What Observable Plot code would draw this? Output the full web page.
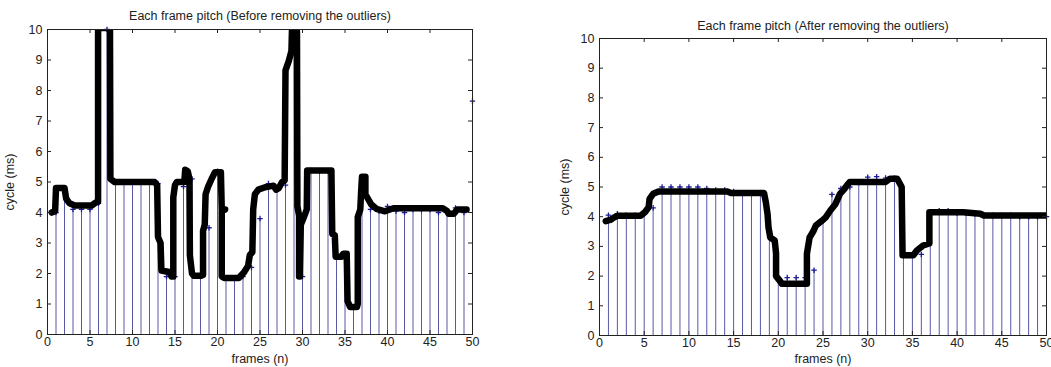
<!DOCTYPE html>
<html><head><meta charset="utf-8">
<script src="https://cdn.jsdelivr.net/npm/d3@7"></script>
<script src="https://cdn.jsdelivr.net/npm/@observablehq/plot@0.6"></script>
<style>
html,body{margin:0;padding:0;background:#fff;}
body{width:1051px;height:367px;overflow:hidden;position:relative;font-family:"Liberation Sans",Arial,sans-serif;}
#left{position:absolute;left:0;top:0;}
#right{position:absolute;left:530px;top:0;}
</style></head><body>
<div id="left"></div><div id="right"></div>
<script>
const frames = d3.range(1, 51);
const xTicks = [0, 5, 10, 15, 20, 25, 30, 35, 40, 45, 50];
const yTicks = [0, 1, 2, 3, 4, 5, 6, 7, 8, 9, 10];
const titleBefore = "Each frame pitch (Before removing the outliers)";
const titleAfter = "Each frame pitch (After removing the outliers)";
const xLabel = "frames (n)";
const yLabel = "cycle (ms)";

// stem values per frame (1..50)
const beforeValues = [4.0,4.8,4.1,4.1,4.1,4.3,10.0,5.0,5.0,5.0,5.0,5.0,4.95,1.9,1.9,4.85,5.1,1.9,3.5,5.35,
  1.85,1.85,1.9,2.2,3.8,4.95,4.75,4.9,9.9,1.9,5.38,5.35,5.35,2.55,2.6,0.9,5.1,4.1,4.05,4.2,
  4.05,4.0,4.1,4.1,4.1,4.0,4.05,4.15,4.0,7.65];
const afterValues = [4.05,4.1,4.05,4.05,4.1,4.3,5.0,5.0,5.0,5.0,5.0,4.95,4.9,4.9,4.85,4.8,4.8,4.8,3.5,1.9,
  1.95,1.95,1.95,2.2,3.85,4.75,4.95,5.0,5.15,5.33,5.35,5.3,5.3,2.7,2.7,2.73,4.1,4.2,4.2,4.12,
  4.12,4.1,4.07,4.05,4.05,4.05,4.0,4.0,4.0,4.0];

// thick black pitch contour (frame position, cycle)
const beforeContourX = [0.5,0.9,1.0,2.0,2.2,2.6,3.2,5.2,5.7,5.95,5.95,7.0,7.2,7.35,7.4,7.9,12.6,12.9,13.0,13.3,
  13.4,14.3,14.6,14.8,14.8,15.0,15.2,16.1,16.2,16.5,16.7,16.75,17.0,17.2,18.1,18.3,18.3,18.5,18.6,18.9,
  19.3,19.7,20.4,20.5,20.9,20.5,20.5,20.8,22.5,23.1,23.6,23.8,24.1,24.2,24.4,24.8,25.6,26.6,26.9,27.2,
  27.6,27.9,28.0,28.4,28.7,28.8,29.2,29.35,29.4,29.6,29.6,29.7,29.8,30.1,30.3,30.5,30.55,33.4,33.5,33.8,
  33.9,34.6,34.8,35.2,35.3,35.6,36.4,36.5,36.5,36.8,36.9,37.0,37.4,37.4,37.6,38.1,38.7,39.7,40.7,46.5,
  47.0,47.2,47.8,48.2,49.3];
const beforeContourY = [4.0,4.05,4.8,4.8,4.45,4.3,4.23,4.23,4.33,4.35,10.05,10.05,10.6,10.1,5.1,5.0,5.0,4.9,3.2,3.0,
  2.1,2.05,1.9,1.9,4.5,4.9,5.0,5.0,5.4,5.35,5.1,2.6,2.0,1.93,1.93,1.95,3.4,3.6,4.6,4.85,
  5.1,5.32,5.32,4.1,4.1,4.05,1.9,1.85,1.85,2.03,2.25,2.6,2.7,4.1,4.6,4.75,4.83,4.88,4.75,4.8,
  5.0,5.05,8.66,8.98,9.3,10.4,10.4,9.9,4.2,3.9,1.9,1.9,3.6,3.8,3.95,4.1,5.38,5.38,3.3,3.25,
  2.55,2.55,2.65,2.65,1.1,0.9,0.9,1.0,3.85,4.1,4.7,5.17,5.17,4.6,4.5,4.26,4.12,4.04,4.14,4.14,
  4.05,3.96,3.96,4.1,4.1];
const afterContourX = [0.7,1.2,1.6,2.0,4.6,5.1,5.5,5.6,6.0,6.6,14.3,14.7,18.4,18.6,18.8,18.9,19.1,19.6,19.75,19.75,
  20.2,20.4,23.2,23.2,23.5,23.9,24.2,24.9,25.3,25.8,26.4,26.9,27.4,27.8,28.0,32.0,32.5,33.3,33.8,33.9,
  35.1,35.5,36.2,36.9,36.9,40.7,42.6,43.0,50.0];
const afterContourY = [3.85,3.89,3.97,4.03,4.03,4.16,4.32,4.6,4.77,4.85,4.85,4.8,4.8,4.5,4.08,3.65,3.3,3.2,2.76,2.0,
  1.83,1.74,1.74,2.75,3.3,3.5,3.7,3.87,3.98,4.2,4.43,4.77,4.94,5.1,5.17,5.17,5.28,5.28,5.0,2.7,
  2.7,2.86,3.03,3.1,4.15,4.15,4.1,4.04,4.04];

function panel({values, cx, cy, title, width, height, ml, mr, mt, mb, titleDy, xLabelOffset, yLabelOffset}) {
  const stems = frames.map((f, i) => ({f, v: values[i]}));
  const contour = cx.map((x, i) => ({x, y: cy[i]}));
  const fh = height - mt - mb;
  const fw = width - ml - mr;
  return Plot.plot({
    width, height,
    marginLeft: ml, marginRight: mr, marginTop: mt, marginBottom: mb,
    style: {fontFamily: '"Liberation Sans", Arial, sans-serif', fontSize: "12.5px", color: "#222", background: "#fff", overflow: "visible"},
    x: {domain: [0, 50]},
    y: {domain: [0, 10]},
    marks: [
      Plot.ruleX(stems, {x: "f", y1: 0, y2: "v", stroke: "#3b3b98", strokeWidth: 1, strokeOpacity: 0.85}),
      Plot.dot(stems, {x: "f", y: "v", symbol: "plus", r: 1.9, stroke: "#1c1c96", strokeWidth: 1.3}),
      Plot.line(contour, {x: "x", y: "y", stroke: "#000", strokeWidth: 6.5, strokeLinejoin: "round", strokeLinecap: "round", clip: true}),
      Plot.frame({stroke: "#222", strokeWidth: 1}),
      Plot.tickX(xTicks, {x: d => d, stroke: "#222", insetTop: fh - 4}),
      Plot.tickX(xTicks, {x: d => d, stroke: "#222", insetBottom: fh - 4}),
      Plot.tickY(yTicks, {y: d => d, stroke: "#222", insetRight: fw - 4}),
      Plot.tickY(yTicks, {y: d => d, stroke: "#222", insetLeft: fw - 4}),
      Plot.axisX(xTicks, {tickSize: 0, tickPadding: 3, label: xLabel, labelAnchor: "center", labelArrow: "none", labelOffset: xLabelOffset, fill: "#222"}),
      Plot.axisY(yTicks, {tickSize: 0, tickPadding: 5, label: yLabel, labelAnchor: "center", labelArrow: "none", labelOffset: yLabelOffset, fill: "#222"}),
      Plot.text([title], {frameAnchor: "top", dy: titleDy, lineAnchor: "middle", text: d => d, fill: "#222", fontSize: 12.5})
    ]
  });
}

document.getElementById("left").appendChild(panel({
  values: beforeValues, cx: beforeContourX, cy: beforeContourY, title: titleBefore,
  width: 520, height: 367, ml: 47, mr: 48, mt: 29, mb: 33, titleDy: -14, xLabelOffset: 28, yLabelOffset: 42
}));
document.getElementById("right").appendChild(panel({
  values: afterValues, cx: afterContourX, cy: afterContourY, title: titleAfter,
  width: 521, height: 367, ml: 69, mr: 5, mt: 38, mb: 32, titleDy: -13, xLabelOffset: 27, yLabelOffset: 39
}));
</script>
</body></html>
